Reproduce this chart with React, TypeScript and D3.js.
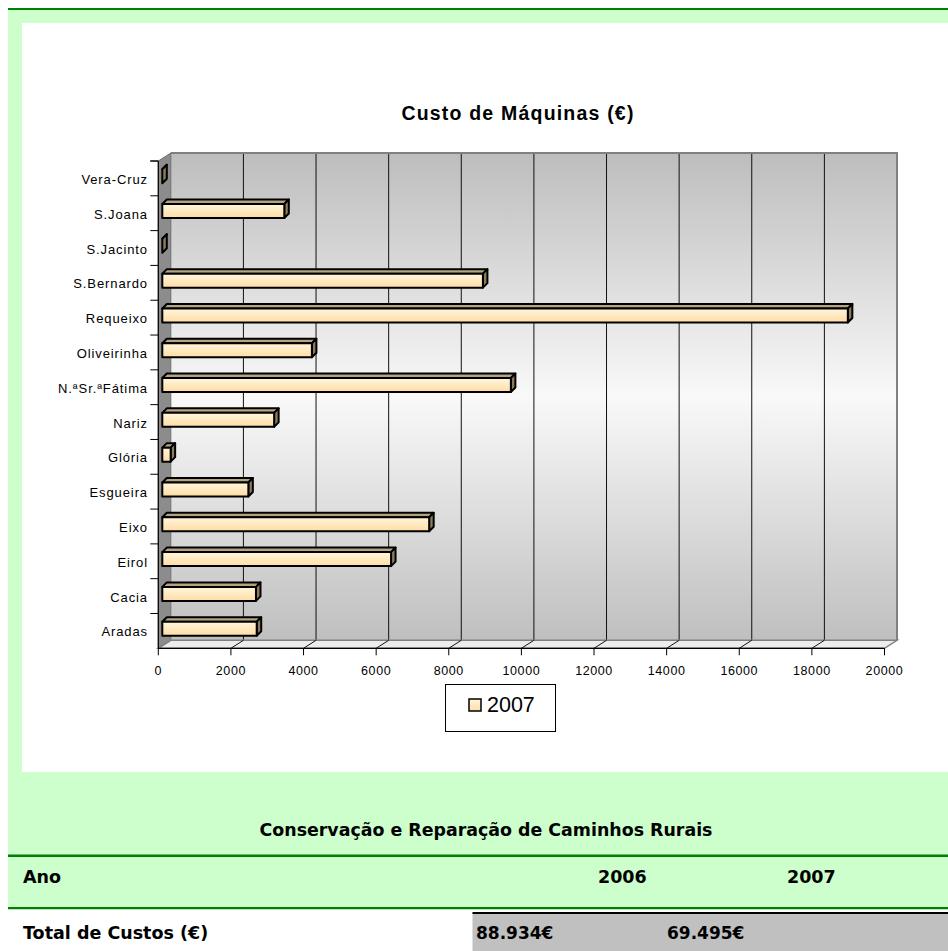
import React from 'react';
import * as d3 from 'd3';

const categories = ['Aradas', 'Cacia', 'Eirol', 'Eixo', 'Esgueira', 'Glória', 'Nariz', 'N.ªSr.ªFátima', 'Oliveirinha', 'Requeixo', 'S.Bernardo', 'S.Jacinto', 'S.Joana', 'Vera-Cruz'];
const values2007 = [2600, 2580, 6300, 7350, 2370, 230, 3080, 9600, 4120, 18880, 8830, 0, 3360, 0];
const xTicks = [0, 2000, 4000, 6000, 8000, 10000, 12000, 14000, 16000, 18000, 20000];
const seriesName = '2007';
const chartTitle = 'Custo de Máquinas (€)';
const tableTitle = 'Conservação e Reparação de Caminhos Rurais';
const tableRowHeader = 'Ano';
const tableYears = ['2006', '2007'];
const tableRowLabel = 'Total de Custos (€)';
const tableTotals = ['88.934€', '69.495€'];

const W = 948;
const H = 951;
const FRONT_LEFT = 158.3;
const FRONT_RIGHT = 884.5;
const FRONT_TOP = 161;
const FRONT_BOTTOM = 648.3;
const DX = 12.5; // wall depth
const DY = -8;
const BX = 4; // bar front offset
const BY = -2.2;
const BDX = 4.5; // bar depth
const BDY = -4.5;
const BAR_H = 14;

export default function App() {
  const x = d3.scaleLinear().domain([0, 20000]).range([FRONT_LEFT, FRONT_RIGHT]);
  const y = d3.scaleBand<string>().domain(categories).range([FRONT_BOTTOM, FRONT_TOP]).padding(0);
  const bw = y.bandwidth();
  const chartFont = '"Liberation Sans", Arial, sans-serif';
  const tableFont = '"DejaVu Sans", Verdana, sans-serif';

  const wallL = FRONT_LEFT + DX;
  const wallR = FRONT_RIGHT + DX;
  const wallT = FRONT_TOP + DY;
  const wallB = FRONT_BOTTOM + DY;

  const boundaries = categories.map((c) => (y(c) as number)).concat([FRONT_TOP]);

  return (
    <svg width={W} height={H} style={{ position: 'absolute', left: 0, top: 0, display: 'block' }}>
      <defs>
        <linearGradient id="wallGrad" x1="0" y1="0" x2="0" y2="1">
          <stop offset="0%" stopColor="#bdbdbd" />
          <stop offset="50%" stopColor="#f9f9f9" />
          <stop offset="100%" stopColor="#bfbfbf" />
        </linearGradient>
        <linearGradient id="barGrad" x1="0" y1="0" x2="0" y2="1">
          <stop offset="0%" stopColor="#fff6dc" />
          <stop offset="100%" stopColor="#ffdca4" />
        </linearGradient>
      </defs>
      {/* page background */}
      <rect x={0} y={0} width={W} height={H} fill="#ffffff" />
      <rect x={8} y={8} width={W - 8} height={900} fill="#ccffcc" />
      <rect x={8} y={8} width={W - 8} height={2} fill="#008000" />
      <rect x={22} y={23} width={W - 22} height={749} fill="#ffffff" />

      {/* chart title */}
      <text x={518} y={120} textAnchor="middle" fontFamily={chartFont} fontWeight="bold" fontSize={19.5} letterSpacing={1.2} fill="#000">
        {chartTitle}
      </text>

      {/* back wall */}
      <rect x={wallL} y={wallT} width={wallR - wallL} height={wallB - wallT} fill="url(#wallGrad)" />
      {xTicks.slice(1, -1).map((t) => (
        <line key={'g' + t} x1={x(t) + DX} x2={x(t) + DX} y1={wallT} y2={wallB} stroke="#111" strokeWidth={1} />
      ))}
      <polyline points={`${wallL},${wallT} ${wallR},${wallT} ${wallR},${wallB}`} fill="none" stroke="#808080" strokeWidth={2} />
      {/* side wall */}
      <polygon
        points={`${FRONT_LEFT},${FRONT_TOP} ${wallL},${wallT} ${wallL},${wallB} ${FRONT_LEFT},${FRONT_BOTTOM}`}
        fill="#8c8c8c"
        stroke="#6e6e6e"
        strokeWidth={1}
      />
      {/* floor */}
      <polygon
        points={`${FRONT_LEFT},${FRONT_BOTTOM} ${wallL},${wallB} ${wallR},${wallB} ${FRONT_RIGHT},${FRONT_BOTTOM}`}
        fill="#ececec"
        stroke="#808080"
        strokeWidth={1.5}
      />
      {xTicks.slice(1, -1).map((t) => (
        <line key={'f' + t} x1={x(t)} x2={x(t) + DX} y1={FRONT_BOTTOM} y2={wallB} stroke="#111" strokeWidth={1} />
      ))}

      {/* bars */}
      {categories.map((c, i) => {
        const v = values2007[i];
        const cy = (y(c) as number) + bw / 2 + BY;
        const top = cy - BAR_H / 2;
        const bot = cy + BAR_H / 2;
        const x0 = x(0) + BX;
        const x1 = x(v) + BX;
        return (
          <g key={c} stroke="#000" strokeWidth={2} strokeLinejoin="round">
            <polygon points={`${x0},${top} ${x0 + BDX},${top + BDY} ${x1 + BDX},${top + BDY} ${x1},${top}`} fill="#b5a480" />
            <polygon points={`${x1},${top} ${x1 + BDX},${top + BDY} ${x1 + BDX},${bot + BDY} ${x1},${bot}`} fill="#8a7b5a" />
            <rect x={x0} y={top} width={Math.max(0, x1 - x0)} height={BAR_H} fill="url(#barGrad)" />
          </g>
        );
      })}

      {/* x axis */}
      <line x1={FRONT_LEFT} x2={FRONT_RIGHT} y1={FRONT_BOTTOM} y2={FRONT_BOTTOM} stroke="#000" strokeWidth={1.2} />
      {xTicks.map((t) => (
        <g key={'t' + t}>
          <line x1={x(t)} x2={x(t)} y1={FRONT_BOTTOM} y2={FRONT_BOTTOM + 7} stroke="#000" strokeWidth={1} />
          <text x={x(t)} y={675} textAnchor="middle" fontFamily={chartFont} fontSize={12.5} letterSpacing={0.6} fill="#000">
            {t}
          </text>
        </g>
      ))}

      {/* y axis */}
      <line x1={FRONT_LEFT} x2={FRONT_LEFT} y1={FRONT_TOP} y2={FRONT_BOTTOM} stroke="#000" strokeWidth={1.2} />
      {boundaries.map((b, i) => (
        <line key={'yt' + i} x1={FRONT_LEFT - 8} x2={FRONT_LEFT} y1={b} y2={b} stroke="#000" strokeWidth={1} />
      ))}
      {categories.map((c) => (
        <text
          key={'l' + c}
          x={148}
          y={(y(c) as number) + bw / 2 + 5.5}
          textAnchor="end"
          fontFamily={chartFont}
          fontSize={13}
          letterSpacing={0.9}
          fill="#000"
        >
          {c}
        </text>
      ))}

      {/* legend */}
      <rect x={445.5} y={684.5} width={110} height={47} fill="#fff" stroke="#000" strokeWidth={1} />
      <rect x={469} y={699} width={12} height={12} fill="url(#barGrad)" stroke="#000" strokeWidth={1.5} />
      <text x={487} y={712} fontFamily={chartFont} fontSize={21.5} fill="#000">
        {seriesName}
      </text>

      {/* table */}
      <text x={486} y={836} textAnchor="middle" fontFamily={tableFont} fontWeight="bold" fontSize={17.4} fill="#000">
        {tableTitle}
      </text>
      <rect x={8} y={854.5} width={W - 8} height={2.5} fill="#008000" />
      <text x={23} y={883} fontFamily={tableFont} fontWeight="bold" fontSize={17.5} fill="#000">
        {tableRowHeader}
      </text>
      {tableYears.map((yr, i) => (
        <text key={yr} x={[598, 787][i]} y={883} fontFamily={tableFont} fontWeight="bold" fontSize={17.5} fill="#000">
          {yr}
        </text>
      ))}
      <rect x={8} y={907} width={W - 8} height={2.5} fill="#008000" />
      <rect x={8} y={909.5} width={W - 8} height={H - 909.5} fill="#ffffff" />
      <rect x={472.5} y={913} width={W - 472.5} height={H - 913} fill="#c0c0c0" />
      <rect x={472.5} y={912} width={W - 472.5} height={2} fill="#000" />
      <text x={23} y={939} fontFamily={tableFont} fontWeight="bold" fontSize={17.5} fill="#000">
        {tableRowLabel}
      </text>
      {tableTotals.map((v, i) => (
        <text key={v} x={[476, 667][i]} y={939} fontFamily={tableFont} fontWeight="bold" fontSize={17} fill="#000">
          {v}
        </text>
      ))}
    </svg>
  );
}
